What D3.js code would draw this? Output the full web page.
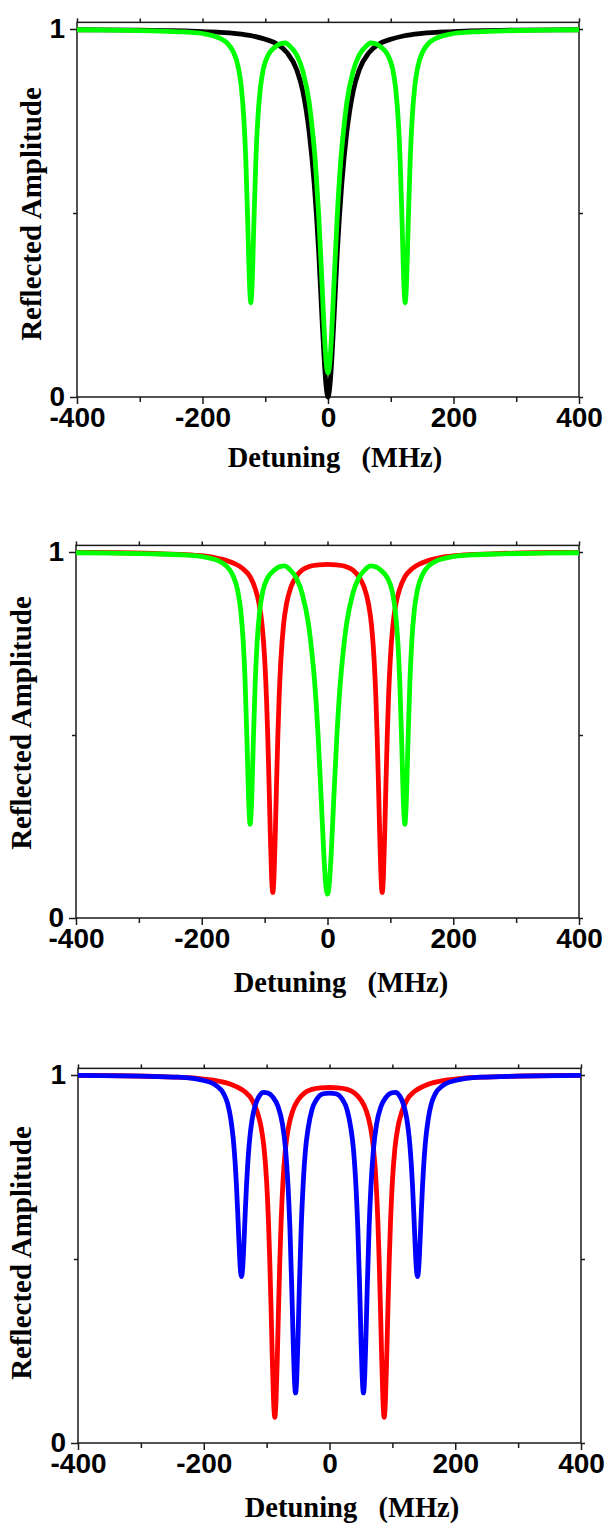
<!DOCTYPE html>
<html>
<head>
<meta charset="utf-8">
<script src="https://cdn.jsdelivr.net/npm/d3@7"></script>
<style>
  body { margin: 0; background: #fff; }
</style>
</head>
<body>
<svg id="chart" width="609" height="1526"></svg>
<script>
// detuning (MHz) / reflected amplitude
const blackDetuning = [-400, -300, -200, -150, -120, -100, -80, -65, -50, -40, -30, -22, -15, -10, -6, -3, 0,
  3, 6, 10, 15, 22, 30, 40, 50, 65, 80, 100, 120, 150, 200, 300, 400];
const blackAmplitude = [0.998, 0.997, 0.993, 0.988, 0.981, 0.972, 0.958, 0.935, 0.890, 0.830, 0.720, 0.580, 0.400, 0.230, 0.100, 0.030, 0,
  0.030, 0.100, 0.230, 0.400, 0.580, 0.720, 0.830, 0.890, 0.935, 0.958, 0.972, 0.981, 0.988, 0.993, 0.997, 0.998];

const greenDetuning = [-400, -340, -280, -230, -195, -175, -161, -151, -143, -138, -134, -131, -128, -125, -123, -121, -118, -115, -112, -108, -103, -95, -85, -76, -68, -60, -50, -40, -30, -25, -20, -15, -10, -6, -3, 0,
  3, 6, 10, 15, 20, 25, 30, 40, 50, 60, 68, 76, 85, 95, 103, 108, 112, 115, 118, 121, 123, 125, 128, 131, 134, 138, 143, 151, 161, 175, 195, 230, 280, 340, 400];
const greenAmplitude = [0.998, 0.997, 0.995, 0.992, 0.986, 0.977, 0.962, 0.938, 0.896, 0.840, 0.754, 0.644, 0.480, 0.304, 0.256, 0.304, 0.479, 0.642, 0.751, 0.836, 0.892, 0.930, 0.950, 0.960, 0.962, 0.952, 0.930, 0.885, 0.800, 0.728, 0.634, 0.500, 0.326, 0.179, 0.096, 0.065,
  0.096, 0.179, 0.326, 0.500, 0.634, 0.728, 0.800, 0.885, 0.930, 0.952, 0.962, 0.960, 0.950, 0.930, 0.892, 0.836, 0.751, 0.642, 0.479, 0.304, 0.256, 0.304, 0.480, 0.644, 0.754, 0.840, 0.896, 0.938, 0.962, 0.977, 0.986, 0.992, 0.995, 0.997, 0.998];

const redDetuning = [-400, -330, -260, -210, -175, -150, -135, -123, -115, -109, -104, -100, -97, -95, -93, -91, -89, -87, -85, -83, -81, -79, -77, -74, -70, -65, -58, -50, -40, -28, -14, 0,
  14, 28, 40, 50, 58, 65, 70, 74, 77, 79, 81, 83, 85, 87, 89, 91, 93, 95, 97, 100, 104, 109, 115, 123, 135, 150, 175, 210, 260, 330, 400];
const redAmplitude = [0.999, 0.998, 0.995, 0.991, 0.983, 0.970, 0.955, 0.932, 0.900, 0.860, 0.800, 0.710, 0.599, 0.496, 0.370, 0.232, 0.117, 0.070, 0.117, 0.232, 0.370, 0.496, 0.599, 0.710, 0.800, 0.860, 0.905, 0.932, 0.951, 0.961, 0.965, 0.966,
  0.965, 0.961, 0.951, 0.932, 0.905, 0.860, 0.800, 0.710, 0.599, 0.496, 0.370, 0.232, 0.117, 0.070, 0.117, 0.232, 0.370, 0.496, 0.599, 0.710, 0.800, 0.860, 0.900, 0.932, 0.955, 0.970, 0.983, 0.991, 0.995, 0.998, 0.999];

const blueDetuning = [-400, -300, -240, -200, -180, -168, -162, -157, -153, -150, -148, -146, -144, -142, -140, -138, -136, -134, -132, -130, -127, -123, -118, -112, -105, -98, -90, -82, -75, -70, -66, -63, -60, -58, -56, -54, -52, -50, -48, -45, -42, -38, -34, -28, -20, -10, 0,
  10, 20, 28, 34, 38, 42, 45, 48, 50, 52, 54, 56, 58, 60, 63, 66, 70, 75, 82, 90, 98, 105, 112, 118, 123, 127, 130, 132, 134, 136, 138, 140, 142, 144, 146, 148, 150, 153, 157, 162, 168, 180, 200, 240, 300, 400];
const blueAmplitude = [0.999, 0.997, 0.994, 0.985, 0.971, 0.948, 0.922, 0.880, 0.825, 0.760, 0.700, 0.627, 0.546, 0.478, 0.452, 0.478, 0.546, 0.627, 0.700, 0.760, 0.825, 0.880, 0.918, 0.942, 0.953, 0.951, 0.940, 0.915, 0.868, 0.800, 0.700, 0.586, 0.420, 0.290, 0.181, 0.136, 0.181, 0.290, 0.420, 0.586, 0.700, 0.800, 0.855, 0.905, 0.935, 0.949, 0.951,
  0.949, 0.935, 0.905, 0.855, 0.800, 0.700, 0.586, 0.420, 0.290, 0.181, 0.136, 0.181, 0.290, 0.420, 0.586, 0.700, 0.800, 0.868, 0.915, 0.940, 0.951, 0.953, 0.942, 0.918, 0.880, 0.825, 0.760, 0.700, 0.627, 0.546, 0.478, 0.452, 0.478, 0.546, 0.627, 0.700, 0.760, 0.825, 0.880, 0.922, 0.948, 0.971, 0.985, 0.994, 0.997, 0.999];

const majorTicks = [-400, -200, 0, 200, 400];
const minorTicks = [-300, -100, 100, 300];
const allTicks = [-400, -300, -200, -100, 0, 100, 200, 300, 400];
const yLabelTicks = [0, 1];
const yMinorTicks = [0.5];

const black = { x: blackDetuning, y: blackAmplitude, color: "#000000" };
const green = { x: greenDetuning, y: greenAmplitude, color: "#00ff00" };
const red = { x: redDetuning, y: redAmplitude, color: "#ff0000" };
const blue = { x: blueDetuning, y: blueAmplitude, color: "#0000ff" };

// panel boxes in px (y0 = amplitude 0, y1 = amplitude 1)
const panels = [
  { left: 77, right: 579, y0: 397, y1: 29, yTitleX: 41, yTitleY: 214, xTitleX: 335, xTitleY: 467, series: [black, green] },
  { left: 76, right: 579, y0: 918, y1: 552, yTitleX: 31, yTitleY: 723, xTitleX: 341, xTitleY: 992, series: [red, green] },
  { left: 78, right: 581, y0: 1443, y1: 1075, yTitleX: 31, yTitleY: 1253, xTitleX: 352, xTitleY: 1517, series: [red, blue] },
];

const axisColor = "#1a1a1a";
const tickFont = "'Liberation Sans', Arial, sans-serif";
const titleFont = "'Liberation Serif', 'Times New Roman', serif";

const svg = d3.select("#chart");

function styleAxis(g, labels) {
  g.select(".domain").remove();
  g.selectAll(".tick line").attr("stroke", axisColor).attr("stroke-width", 1.5);
  if (labels) {
    g.selectAll(".tick text")
      .attr("fill", "#000")
      .attr("font-family", tickFont)
      .attr("font-weight", "bold")
      .attr("font-size", 28);
  } else {
    g.selectAll(".tick text").remove();
  }
}

panels.forEach((p) => {
  const g = svg.append("g");
  const x = d3.scaleLinear().domain([-400, 400]).range([p.left, p.right]);
  const y = d3.scaleLinear().domain([0, 1]).range([p.y0, p.y1]);
  const top = y(1.018);

  g.append("g")
    .attr("transform", `translate(0,${p.y0})`)
    .call(d3.axisBottom(x).tickValues(majorTicks).tickSize(7).tickPadding(3).tickFormat((d) => String(d)))
    .call((a) => styleAxis(a, true));
  g.append("g")
    .attr("transform", `translate(0,${p.y0})`)
    .call(d3.axisBottom(x).tickValues(minorTicks).tickSize(5))
    .call((a) => styleAxis(a, false));
  g.append("g")
    .attr("transform", `translate(0,${top})`)
    .call(d3.axisTop(x).tickValues(allTicks).tickSize(4))
    .call((a) => styleAxis(a, false));

  g.append("g")
    .attr("transform", `translate(${p.left},0)`)
    .call(d3.axisLeft(y).tickValues(yLabelTicks).tickSize(7).tickPadding(5).tickFormat((d) => String(d)))
    .call((a) => styleAxis(a, true));
  g.append("g")
    .attr("transform", `translate(${p.left},0)`)
    .call(d3.axisLeft(y).tickValues(yMinorTicks).tickSize(4))
    .call((a) => styleAxis(a, false));
  g.append("g")
    .attr("transform", `translate(${p.right},0)`)
    .call(d3.axisRight(y).tickValues([0, 0.5, 1]).tickSize(4))
    .call((a) => styleAxis(a, false));

  g.append("rect")
    .attr("x", p.left)
    .attr("y", top)
    .attr("width", p.right - p.left)
    .attr("height", p.y0 - top)
    .attr("fill", "none")
    .attr("stroke", axisColor)
    .attr("stroke-width", 1.5);

  const line = d3.line()
    .x((d) => x(d[0]))
    .y((d) => y(d[1]))
    .curve(d3.curveMonotoneX);

  p.series.forEach((s) => {
    g.append("path")
      .datum(d3.zip(s.x, s.y))
      .attr("d", line)
      .attr("fill", "none")
      .attr("stroke", s.color)
      .attr("stroke-width", 4.8)
      .attr("stroke-linejoin", "round");
  });

  g.append("text")
    .attr("transform", `translate(${p.yTitleX},${p.yTitleY}) rotate(-90)`)
    .attr("text-anchor", "middle")
    .attr("font-family", titleFont)
    .attr("font-weight", "bold")
    .attr("font-size", 29)
    .text("Reflected Amplitude");

  g.append("text")
    .attr("x", p.xTitleX)
    .attr("y", p.xTitleY)
    .attr("text-anchor", "middle")
    .attr("font-family", titleFont)
    .attr("font-weight", "bold")
    .attr("font-size", 28.5)
    .style("white-space", "pre")
    .text("Detuning   (MHz)");
});
</script>
</body>
</html>
